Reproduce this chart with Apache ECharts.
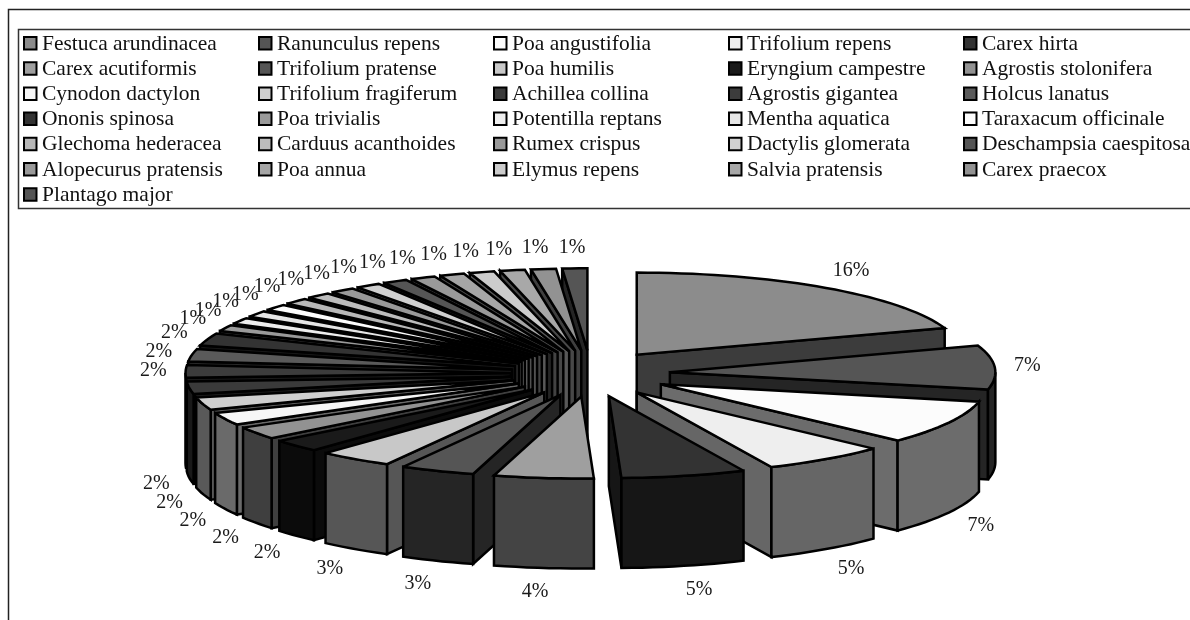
<!DOCTYPE html>
<html>
<head>
<meta charset="utf-8">
<style>
  html, body { margin: 0; padding: 0; background: #fff; }
  #chart { width: 1190px; height: 620px; }
</style>
<script src="https://cdn.jsdelivr.net/npm/echarts@6/dist/echarts.min.js"></script>
</head>
<body>
<div id="chart"></div>
<script>
// legend order is also the clockwise slice order, starting at 12 o'clock
const species = [
  "Festuca arundinacea", "Ranunculus repens", "Poa angustifolia", "Trifolium repens", "Carex hirta",
  "Carex acutiformis", "Trifolium pratense", "Poa humilis", "Eryngium campestre", "Agrostis stolonifera",
  "Cynodon dactylon", "Trifolium fragiferum", "Achillea collina", "Agrostis gigantea", "Holcus lanatus",
  "Ononis spinosa", "Poa trivialis", "Potentilla reptans", "Mentha aquatica", "Taraxacum officinale",
  "Glechoma hederacea", "Carduus acanthoides", "Rumex crispus", "Dactylis glomerata", "Deschampsia caespitosa",
  "Alopecurus pratensis", "Poa annua", "Elymus repens", "Salvia pratensis", "Carex praecox",
  "Plantago major"
];
const percents = [16, 7, 7, 5, 5, 4, 3, 3, 2, 2, 2, 2, 2, 2, 2, 2, 1, 1, 1, 1, 1, 1, 1, 1, 1, 1, 1, 1, 1, 1, 1];
const greys = [
  "#8c8c8c", "#555555", "#fcfcfc", "#eeeeee", "#333333",
  "#9f9f9f", "#555555", "#c8c8c8", "#1a1a1a", "#929292",
  "#f6f6f6", "#cfcfcf", "#3a3a3a", "#3c3c3c", "#5a5a5a",
  "#333333", "#9a9a9a", "#eeeeee", "#e6e6e6", "#fcfcfc",
  "#b8b8b8", "#bcbcbc", "#999999", "#d0d0d0", "#555555",
  "#999999", "#a6a6a6", "#cccccc", "#a8a8a8", "#929292",
  "#555555"
];

const FONT = '"Liberation Serif", "Times New Roman", serif';
const pie = { cx: 590.5, cy: 373.5, rx: 325.5, ry: 82, depth: 90, explodeX: 79.5, explodeY: 23.2 };

// the sides are the top colour in shadow
function shade(hex) {
  const v = Math.round(parseInt(hex.slice(1, 3), 16) * 0.43);
  return "rgb(" + v + "," + v + "," + v + ")";
}

// start and end angle of every slice, degrees clockwise from north
const total = percents.reduce((a, b) => a + b, 0);
let running = 0;
const slices = percents.map((p, i) => {
  const start = (running / total) * 360;
  running += p;
  return { index: i, start: start, end: (running / total) * 360 };
});

// back slices first so the front ones paint over them
const drawOrder = slices
  .slice()
  .sort((a, b) => Math.cos(rad((b.start + b.end) / 2)) - Math.cos(rad((a.start + a.end) / 2)))
  .map((s) => s.index);

function rad(deg) {
  return (deg * Math.PI) / 180;
}

function renderSlice(params, api) {
  const s = slices[api.value(0)];
  const mid = (s.start + s.end) / 2;
  const sinMid = Math.sin(rad(mid));
  const cosMid = Math.cos(rad(mid));
  const ox = pie.cx + pie.explodeX * sinMid;
  const oy = pie.cy - pie.explodeY * cosMid;
  const rim = (a) => [ox + pie.rx * Math.sin(rad(a)), oy - pie.ry * Math.cos(rad(a))];
  const down = (p) => [p[0], p[1] + pie.depth];
  const arc = (from, to) => {
    const pts = [];
    const steps = Math.max(2, Math.ceil((to - from) / 2));
    for (let k = 0; k <= steps; k++) pts.push(rim(from + ((to - from) * k) / steps));
    return pts;
  };
  const top = greys[s.index];
  const side = shade(top);
  const face = (points, fill) => ({
    type: "polygon",
    shape: { points: points },
    style: { fill: fill, stroke: "#000", lineWidth: 2.5, lineJoin: "miter", miterLimit: 3 }
  });
  const apex = [ox, oy];
  const children = [];

  // straight wall that can be seen: the end one on the right, the start one on the left
  if (s.end < 180) {
    const c = rim(s.end);
    children.push(face([apex, c, down(c), down(apex)], side));
  }
  if (s.start > 180) {
    const c = rim(s.start);
    children.push(face([apex, c, down(c), down(apex)], side));
  }
  // outer wall, only the part on the near half of the ellipse
  const from = Math.max(s.start, 90);
  const to = Math.min(s.end, 270);
  if (to > from) {
    const edge = arc(from, to);
    children.push(face(edge.concat(edge.map(down).reverse()), side));
  }
  children.push(face([apex].concat(arc(s.start, s.end)), top));

  // percent label just outside the rim, pushed a bit sideways near the top and bottom
  const anchor = rim(mid);
  const near = mid > 90 && mid < 270;
  const nudge = 8 * Math.sign(sinMid) * Math.abs(cosMid) * Math.min(1, Math.abs(sinMid) * 5);
  children.push({
    type: "text",
    z2: 100,
    style: {
      text: percents[s.index] + "%",
      x: anchor[0] + 32 * sinMid + nudge,
      y: anchor[1] + (near ? pie.depth + 3 : 0) - 21 * cosMid,
      align: "center",
      verticalAlign: "middle",
      font: "20px " + FONT,
      fill: "#1a1a1a"
    }
  });
  return { type: "group", children: children };
}

// legend box laid out in five columns, row by row
const legendColumns = 5;
const graphics = [
  { type: "polyline", shape: { points: [[8.5, 620], [8.5, 9.5], [1190, 9.5]] }, style: { fill: "none", stroke: "#222", lineWidth: 1.5 } },
  { type: "rect", shape: { x: 18.5, y: 29.5, width: 1200, height: 179 }, style: { fill: "none", stroke: "#333", lineWidth: 1.5 } }
];
species.forEach((name, i) => {
  const col = i % legendColumns;
  const row = Math.floor(i / legendColumns);
  const x = 24 + col * 235;
  const y = 44 + row * 25.2;
  graphics.push({
    type: "rect",
    shape: { x: x, y: y - 7, width: 12.5, height: 12.5 },
    style: { fill: greys[i], stroke: "#000", lineWidth: 2 }
  });
  graphics.push({
    type: "text",
    style: { text: name, x: x + 18, y: y, verticalAlign: "middle", font: "21.5px " + FONT, fill: "#111" }
  });
});

const chart = echarts.init(document.getElementById("chart"));
chart.setOption({
  animation: false,
  graphic: { elements: graphics },
  series: [
    {
      type: "custom",
      coordinateSystem: "none",
      silent: true,
      renderItem: renderSlice,
      data: drawOrder.map((i) => [i, percents[i]])
    }
  ]
});
</script>
</body>
</html>
